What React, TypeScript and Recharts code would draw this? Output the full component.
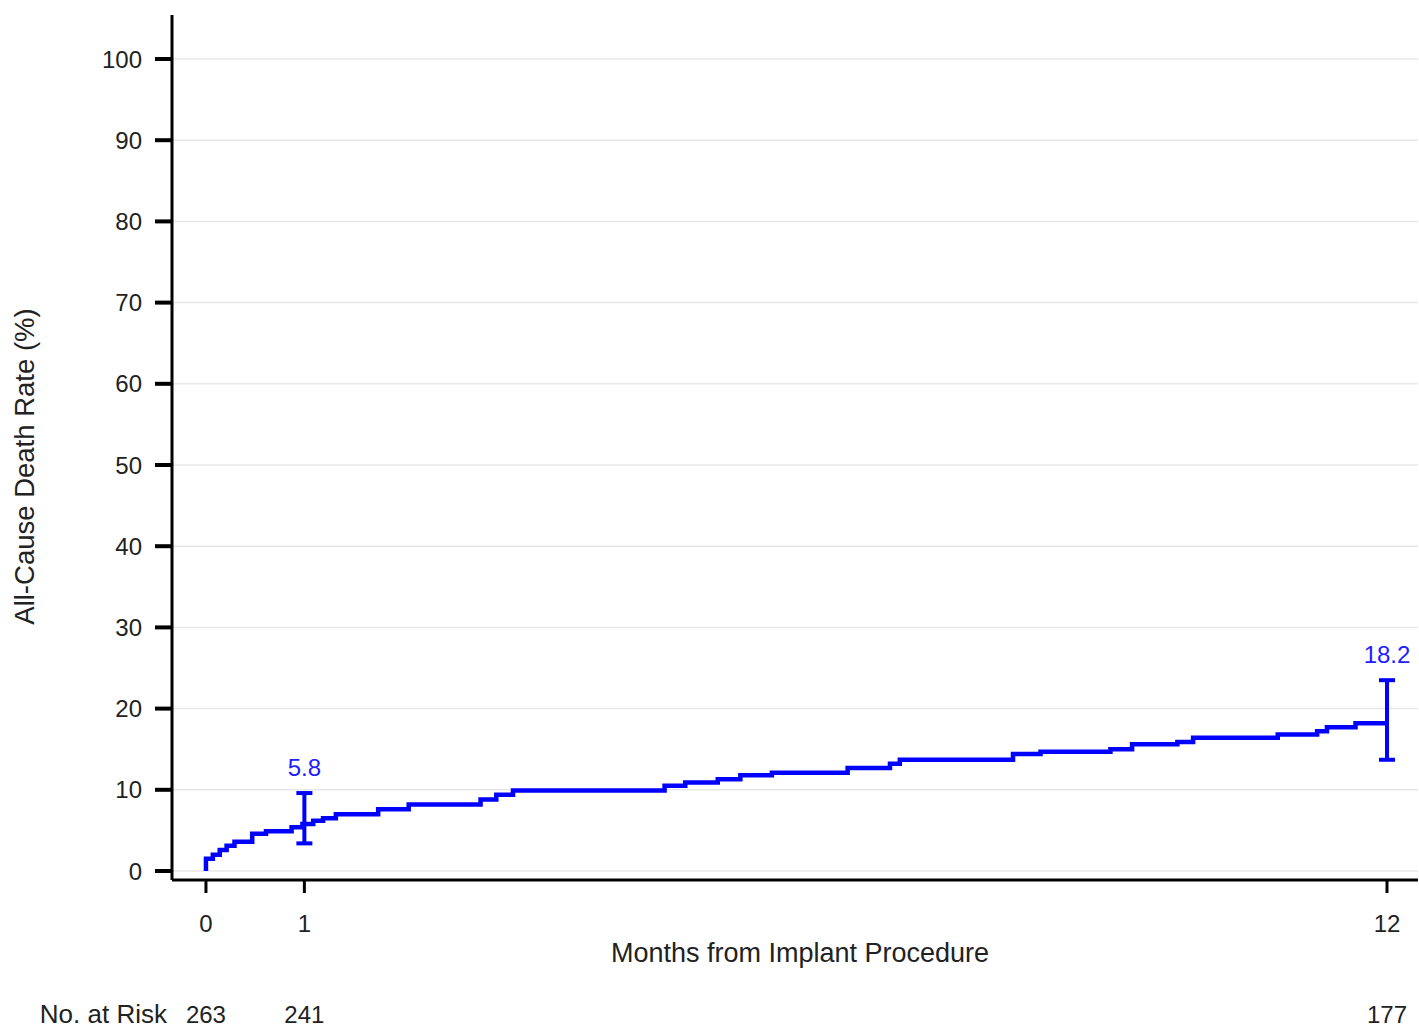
import React from "react"
import {
  ComposedChart,
  Line,
  Scatter,
  ErrorBar,
  LabelList,
  XAxis,
  YAxis,
  ReferenceLine,
  Label,
} from "recharts"

// Kaplan-Meier style cumulative death rate (step points)
const months = [
  0, 0, 0.07, 0.14, 0.21, 0.29, 0.47, 0.61, 0.87, 0.98, 1.09, 1.19, 1.32, 1.75, 2.06, 2.79, 2.95, 3.12,
  4.66, 4.87, 5.2, 5.43, 5.75, 6.52, 6.95, 7.05, 8.2, 8.48, 9.19, 9.41, 9.87, 10.03, 10.89, 11.29, 11.39,
  11.68, 12,
]
const deathRate = [
  0, 1.5, 2.0, 2.6, 3.1, 3.6, 4.6, 4.9, 5.4, 5.8, 6.2, 6.5, 7.0, 7.6, 8.2, 8.8, 9.4, 9.9, 10.5, 10.9,
  11.3, 11.8, 12.1, 12.7, 13.2, 13.7, 14.4, 14.7, 15.0, 15.6, 15.9, 16.4, 16.8, 17.2, 17.7, 18.2, 18.2,
]

// landmark estimates with 95% CI
const ciMonths = [1, 12]
const ciEstimate = [5.8, 18.2]
const ciLower = [3.4, 13.7]
const ciUpper = [9.6, 23.5]

const xTicks = [0, 1, 12]
const yTicks = [0, 10, 20, 30, 40, 50, 60, 70, 80, 90, 100]

const riskMonths = [0, 1, 12]
const riskCounts = [263, 241, 177]

const BLUE = "#0000ff"
const FONT = "'Liberation Sans', Arial, sans-serif"
const X_DOMAIN = [-0.345, 12.315]

const curve = months.map((t, i) => ({ t, rate: deathRate[i] }))
const ciPoints = ciMonths.map((t, i) => ({
  t,
  rate: ciEstimate[i],
  err: [ciEstimate[i] - ciLower[i], ciUpper[i] - ciEstimate[i]],
}))
const ciLabels = ciMonths.map((t, i) => ({ t, top: ciUpper[i], label: ciEstimate[i].toFixed(1) }))

const tickStyle = { fontSize: 24, fill: "#222", fontFamily: FONT }

const YTitle = ({ viewBox }: any) => {
  const x = 34
  const y = viewBox.y + viewBox.height / 2 + 19
  return (
    <text
      x={x}
      y={y}
      transform={`rotate(-90 ${x} ${y})`}
      textAnchor="middle"
      fontSize={27.5}
      fill="#222"
      fontFamily={FONT}
    >
      All-Cause Death Rate (%)
    </text>
  )
}

export default function App() {
  return (
    <div style={{ position: "absolute", left: 0, top: 0, background: "#fff", fontFamily: FONT }}>
      <ComposedChart width={1419} height={1028} margin={{ top: 15, right: 1, left: 0, bottom: 0 }}>
        {yTicks.map((v) => (
          <ReferenceLine key={v} y={v} stroke="#e8e8e8" strokeWidth={1.5} />
        ))}
        <XAxis
          dataKey="t"
          type="number"
          domain={X_DOMAIN}
          ticks={xTicks}
          allowDataOverflow
          height={95}
          tick={tickStyle}
          tickSize={13}
          tickMargin={22}
          axisLine={{ stroke: "#000", strokeWidth: 3 }}
          tickLine={{ stroke: "#000", strokeWidth: 3 }}
        >
          <Label
            value="Months from Implant Procedure"
            position="insideBottom"
            offset={13}
            dx={5}
            style={{ fontSize: 27, fill: "#222", fontFamily: FONT }}
          />
        </XAxis>
        <XAxis
          xAxisId="risk"
          dataKey="t"
          type="number"
          domain={X_DOMAIN}
          ticks={riskMonths}
          allowDataOverflow
          interval={0}
          height={53}
          axisLine={false}
          tickLine={false}
          tickSize={0}
          tickMargin={31}
          tick={tickStyle}
          tickFormatter={(v: number) => String(riskCounts[riskMonths.indexOf(v)] ?? "")}
        >
          <Label
            value="No. at Risk"
            position="left"
            offset={5}
            dy={12}
            style={{ fontSize: 26, fill: "#222", fontFamily: FONT }}
          />
        </XAxis>
        <YAxis
          type="number"
          domain={[-1.108, 105.42]}
          ticks={yTicks}
          allowDataOverflow
          width={172}
          tick={tickStyle}
          tickSize={17}
          tickMargin={13}
          axisLine={{ stroke: "#000", strokeWidth: 3 }}
          tickLine={{ stroke: "#000", strokeWidth: 4 }}
        >
          <Label content={<YTitle />} />
        </YAxis>
        <Line
          data={curve}
          dataKey="rate"
          type="stepAfter"
          stroke={BLUE}
          strokeWidth={4.5}
          dot={false}
          activeDot={false}
          isAnimationActive={false}
        />
        <Line
          xAxisId="risk"
          data={curve}
          dataKey="rate"
          stroke="none"
          dot={false}
          activeDot={false}
          legendType="none"
          isAnimationActive={false}
        />
        <Scatter data={ciPoints} dataKey="rate" shape={() => <g />} isAnimationActive={false}>
          <ErrorBar dataKey="err" direction="y" width={8} stroke={BLUE} strokeWidth={4} />
        </Scatter>
        <Scatter data={ciLabels} dataKey="top" shape={() => <g />} isAnimationActive={false}>
          <LabelList
            dataKey="label"
            position="top"
            offset={13}
            style={{ fontSize: 24, fill: "#2020ff", fontFamily: FONT }}
          />
        </Scatter>
      </ComposedChart>
    </div>
  )
}
